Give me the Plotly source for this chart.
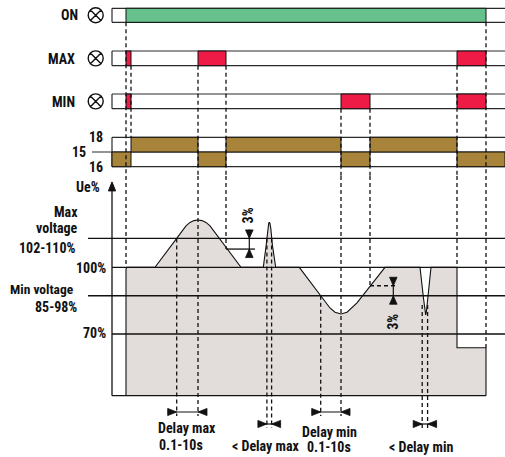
import plotly.graph_objects as go

# ======================= DATA =======================
# schematic time axis (arbitrary units)
on_interval = [126, 486]                 # ON LED lit
max_led_start = [126, 198, 457]          # MAX LED lit
max_led_end = [131, 226, 486]
min_led_start = [126, 341, 457]          # MIN LED lit
min_led_end = [131, 370, 486]
relay_18_start = [131, 226, 370]         # contact 15-18 closed
relay_18_end = [198, 341, 457]
relay_16_start = [112, 198, 341, 457]    # contact 15-16 closed
relay_16_end = [131, 226, 370, 505]

# supply voltage profile Ue%
volt_t = [126, 126.8, 155, 176.7, 186, 190, 194, 198, 202, 206, 210, 241,
          263.3, 266.2, 267.8, 268.7, 269.3, 269.9, 270.8, 272.4, 275.7,
          299.3, 320.7, 325, 330, 335, 341, 347, 352, 357, 385,
          420, 423.5, 425, 425.7, 426.4, 427.8, 431,
          457, 457, 486]
volt_pct = [99.2, 100, 100, 113.0, 118.6, 120.2, 121.0, 121.3, 121.0, 120.2, 118.6, 100,
            100, 110, 117.5, 119.8, 120.3, 119.8, 117.5, 110, 100,
            100, 87.2, 84.6, 81.7, 79.8, 79.0, 79.8, 81.7, 84.0, 100,
            100, 86, 80, 78.6, 80, 86, 100,
            100, 63.8, 63.8]

# voltage levels (Ue%)
level_max = 113.0
level_max_reset = 108.2
level_ref = 100.0
level_min = 87.2
level_min_reset = 91.7
level_70 = 70.0
level_floor = 42.25
level_axis_top = 138.4

# delay intervals (time)
delay_max = [176.7, 198]
delay_max_short = [266.9, 271.6]
delay_min = [320.7, 341]
delay_min_short = [422.2, 427.6]

led_labels = ["ON", "MAX", "MIN"]
contact_labels = ["18", "15", "16"]

# ======================= LAYOUT CONSTANTS =======================
W, H = 505, 457
Y100_PX = 267.3
PX_PER_PCT = (334.0 - 267.3) / 30.0
Y2_RANGE = [level_ref - (H - Y100_PX) / PX_PER_PCT, level_ref + Y100_PX / PX_PER_PCT]

ROWS = [(8.3, 22.3), (51.0, 65.7), (94.0, 108.7)]
C18, C15, C16 = 137.3, 152.0, 166.7
X_AX = 112
X_R = 505
X_THR = 88
X_15 = 92
X_SYM = 95.7
SPLIT_PX = 176.0
SPLIT_PCT = level_ref + (Y100_PX - SPLIT_PX) / PX_PER_PCT

FONT = "Liberation Sans Narrow, Roboto Condensed, DejaVu Sans Condensed, Arial Narrow, sans-serif"
GREEN = "#66c18c"
RED = "#ee1b47"
BROWN = "#a8843a"
GREY = "#e2dddb"
DASH = "4px,3px"

fig = go.Figure()


def add(xs, ys, axis="y", **kw):
    kw.setdefault("mode", "lines")
    fig.add_trace(go.Scatter(x=xs, y=ys, yaxis=axis, hoverinfo="skip",
                             showlegend=False, **kw))


def rects(starts, ends, y0, y1):
    xs, ys = [], []
    for a, b in zip(starts, ends):
        xs += [a, b, b, a, a, None]
        ys += [y0, y0, y1, y1, y0, None]
    return xs, ys


def segs(lst):
    xs, ys = [], []
    for x0, y0, x1, y1 in lst:
        xs += [x0, x1, None]
        ys += [y0, y1, None]
    return xs, ys


def tri(tx, ty, direction, length=9.0, half=3.6):
    # tip at (tx, ty) in (time, Ue%) units, size in px
    L = length / PX_PER_PCT
    hw = half / PX_PER_PCT
    if direction == "right":
        return [tx, tx - length, tx - length, tx, None], [ty, ty + hw, ty - hw, ty, None]
    if direction == "left":
        return [tx, tx + length, tx + length, tx, None], [ty, ty + hw, ty - hw, ty, None]
    if direction == "down":
        return [tx, tx - half, tx + half, tx, None], [ty, ty + L, ty + L, ty, None]
    return [tx, tx - half, tx + half, tx, None], [ty, ty - L, ty - L, ty, None]


# ---------------- row frames (pixel-row axis y) ----------------
frame = []
for top, bot in ROWS:
    frame += [(X_AX, top, X_R, top), (X_AX, bot, X_R, bot), (X_AX, top, X_AX, bot)]
frame += [(X_AX, C18, X_R, C18), (X_15, C15, X_R, C15), (X_AX, C16, X_R, C16),
          (X_AX, C18, X_AX, C16)]
fx, fy = segs(frame)
add(fx, fy, line=dict(color="#2a2a2a", width=1.2))

# LED states
gx, gy = rects([on_interval[0]], [on_interval[1]], *ROWS[0])
add(gx, gy, fill="toself", fillcolor=GREEN, line=dict(color="#111", width=1))
rx, ry = rects(max_led_start, max_led_end, *ROWS[1])
rx2, ry2 = rects(min_led_start, min_led_end, *ROWS[2])
add(rx + rx2, ry + ry2, fill="toself", fillcolor=RED, line=dict(color="#111", width=1))
# relay contacts
bx, by = rects(relay_18_start, relay_18_end, C18, C15)
bx2, by2 = rects(relay_16_start, relay_16_end, C15, C16)
add(bx + bx2, by + by2, fill="toself", fillcolor=BROWN, line=dict(color="#111", width=1))

# upper dashed event lines
upper = [
    (on_interval[0], ROWS[0][1], on_interval[0], SPLIT_PX),
    (max_led_end[0], ROWS[1][1], max_led_end[0], C18),
    (max_led_start[1], ROWS[1][1], max_led_start[1], SPLIT_PX),
    (max_led_end[1], ROWS[1][1], max_led_end[1], SPLIT_PX),
    (min_led_start[1], ROWS[2][1], min_led_start[1], SPLIT_PX),
    (min_led_end[1], ROWS[2][1], min_led_end[1], SPLIT_PX),
    (max_led_start[2], ROWS[1][1], max_led_start[2], SPLIT_PX),
    (on_interval[1], ROWS[0][1], on_interval[1], SPLIT_PX),
]
ux, uy = segs(upper)
add(ux, uy, line=dict(color="#111", width=1.3, dash=DASH))

# LED symbols
add([X_SYM] * 3, [(t + b) / 2 for t, b in ROWS], mode="markers",
    marker=dict(symbol="circle-x-open", size=15, color="#111", line=dict(width=1.4)))

# ---------------- voltage area (Ue% axis y2) ----------------
px_ = [volt_t[0]] + volt_t + [volt_t[-1]]
py_ = [level_floor] + volt_pct + [level_floor]
add(px_, py_, axis="y2", fill="toself", fillcolor=GREY, line=dict(width=0))

levels = [(X_THR, level_max, X_R, level_max), (X_AX, level_ref, X_R, level_ref),
          (X_THR, level_min, X_R, level_min), (X_AX, level_70, X_R, level_70),
          (X_AX, level_floor, on_interval[1], level_floor),
          (X_AX, level_floor, X_AX, level_axis_top - 4),
          (max_led_end[1], level_max_reset, 255, level_max_reset)]
lx, ly = segs(levels)
add(lx, ly, axis="y2", line=dict(color="#111", width=1.3))

add(px_, py_, axis="y2", line=dict(color="#111", width=1.1))

# axis arrow
ax_, ay_ = tri(X_AX, level_axis_top, "up", length=9, half=3.6)
add(ax_, ay_, axis="y2", fill="toself", fillcolor="#111", line=dict(color="#111", width=1))

# lower dashed lines
arrow_row = level_floor - 16.3 / PX_PER_PCT
short_row = level_floor - 28.3 / PX_PER_PCT
end_d = 4.0 / PX_PER_PCT
lower = [
    (on_interval[0], SPLIT_PCT, on_interval[0], level_ref),
    (max_led_start[1], SPLIT_PCT, max_led_start[1], arrow_row - end_d),
    (max_led_end[1], SPLIT_PCT, max_led_end[1], level_max_reset),
    (min_led_start[1], SPLIT_PCT, min_led_start[1], arrow_row - end_d),
    (min_led_end[1], SPLIT_PCT, min_led_end[1], level_min_reset),
    (max_led_start[2], SPLIT_PCT, max_led_start[2], level_ref),
    (on_interval[1], SPLIT_PCT, on_interval[1], volt_pct[-1]),
    (delay_max[0], level_max, delay_max[0], arrow_row - end_d),
    (delay_max_short[0], level_max, delay_max_short[0], short_row - end_d),
    (delay_max_short[1], level_max, delay_max_short[1], short_row - end_d),
    (delay_min[0], level_min, delay_min[0], arrow_row - end_d),
    (delay_min_short[0], 83.0, delay_min_short[0], short_row - end_d),
    (delay_min_short[1], 83.0, delay_min_short[1], short_row - end_d),
    (min_led_end[1], level_min_reset, 396.7, level_min_reset),
]
dx, dy = segs(lower)
add(dx, dy, axis="y2", line=dict(color="#111", width=1.3, dash=DASH))

# arrows (dimension markers)
arr_lines = [(249.3, level_max + 9 / PX_PER_PCT, 249.3, level_max_reset - 8 / PX_PER_PCT),
             (393.3, level_min_reset + 8 / PX_PER_PCT, 393.3, level_min - 8 / PX_PER_PCT)]
tris_x, tris_y = [], []
for x, y, d in [(249.3, level_max, "down"), (249.3, level_max_reset, "up"),
                (393.3, level_min_reset, "down"), (393.3, level_min, "up")]:
    a, b = tri(x, y, d, length=8.5, half=3.8)
    tris_x += a
    tris_y += b
for (s, e), row in [(delay_max, arrow_row), (delay_min, arrow_row),
                    (delay_max_short, short_row), (delay_min_short, short_row)]:
    arr_lines.append((s - 9, row, e + 9, row))
    a, b = tri(s, row, "right")
    tris_x += a
    tris_y += b
    a, b = tri(e, row, "left")
    tris_x += a
    tris_y += b
alx, aly = segs(arr_lines)
add(alx, aly, axis="y2", line=dict(color="#111", width=1.2))
add(tris_x, tris_y, axis="y2", fill="toself", fillcolor="#111", line=dict(color="#111", width=0.8))

# ---------------- text ----------------
ann = []


def label(text, x, y, yref="y", xanchor="right", yshift=0, angle=0, size=14):
    ann.append(dict(text="<b>%s</b>" % text, x=x, y=y, xref="x", yref=yref,
                    xanchor=xanchor, yanchor="middle", yshift=yshift, textangle=angle,
                    showarrow=False, font=dict(family=FONT, size=size, color="#111")))


label(led_labels[0], 80, 15.3)
label(led_labels[1], 77, 58.5)
label(led_labels[2], 77, 101.5)
label(contact_labels[0], 104.5, C18)
label(contact_labels[1], 88, C15)
label(contact_labels[2], 104.5, C16)
label("Ue%", 101.5, 187)

label("Max", 80, level_max, "y2", yshift=26)
label("voltage", 79.5, level_max, "y2", yshift=10.5)
label("102-110%", 77.5, level_max, "y2", yshift=-10)
label("100%", 107.5, level_ref, "y2", yshift=-0.5)
label("Min voltage", 76, level_min, "y2", yshift=6.5, size=13.5)
label("85-98%", 78.5, level_min, "y2", yshift=-11)
label("70%", 107.5, level_70, "y2", yshift=1)
label("3%", 248, level_max, "y2", xanchor="center", yshift=23, angle=-90)
label("3%", 393, level_min, "y2", xanchor="center", yshift=-26, angle=-90)

label("Delay max", 156, level_floor, "y2", xanchor="left", yshift=-32.3)
label("0.1-10s", 156.5, level_floor, "y2", xanchor="left", yshift=-49.3)
label("&lt; Delay max", 266, level_floor, "y2", xanchor="center", yshift=-49.8)
label("Delay min", 329.5, level_floor, "y2", xanchor="center", yshift=-36.3)
label("0.1-10s", 329, level_floor, "y2", xanchor="center", yshift=-51.3)
label("&lt; Delay min", 420.5, level_floor, "y2", xanchor="center", yshift=-50.8)

fig.update_layout(
    width=W, height=H, margin=dict(l=0, r=0, t=0, b=0),
    paper_bgcolor="white", plot_bgcolor="white", showlegend=False,
    xaxis=dict(range=[0, W], visible=False, fixedrange=True),
    yaxis=dict(range=[H, 0], visible=False, fixedrange=True),
    yaxis2=dict(range=Y2_RANGE, visible=False, overlaying="y", fixedrange=True),
    annotations=ann,
)

fig.write_html("out.html", config={"displayModeBar": False},
               post_script="document.body.style.margin='0';document.body.style.overflow='hidden';")
